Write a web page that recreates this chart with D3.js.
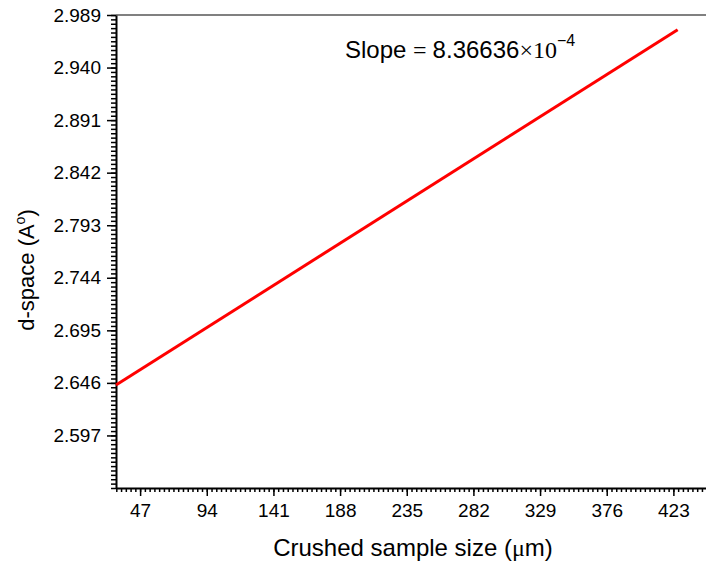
<!DOCTYPE html>
<html><head><meta charset="utf-8">
<script src="https://cdn.jsdelivr.net/npm/d3@7/dist/d3.min.js"></script>
<style>body{margin:0;background:#fff}svg{display:block}</style>
</head><body>
<svg id="c" width="706" height="570"></svg>
<script>
const xTicks = [47, 94, 141, 188, 235, 282, 329, 376, 423];
const yTicks = [2.597, 2.646, 2.695, 2.744, 2.793, 2.842, 2.891, 2.940, 2.989];
const xDomain = [30, 446];
const yDomain = [2.548, 2.989];
const lineX = [30, 426];
const lineY = [2.644, 2.97531];
const slopeLabel = "8.36636";

const svg = d3.select("#c");
const L = 116, R = 706, T = 15, B = 488;
const x = d3.scaleLinear().domain(xDomain).range([L, R]);
const y = d3.scaleLinear().domain(yDomain).range([B, T]);
const font = "'Liberation Sans', Arial, sans-serif";
const serif = "'Liberation Serif', 'Times New Roman', serif";

const xStep = 47 / 14, yStep = 0.049 / 12;
const xMinor = d3.range(xTicks[0] - 47, xDomain[1] + 1e-9, xStep).filter(v => v >= xDomain[0]);
const yMinor = d3.range(yDomain[0], yDomain[1] + 1e-9, yStep);

svg.append("line").attr("x1", L).attr("x2", R).attr("y1", T).attr("y2", T)
  .attr("stroke", "#808080").attr("stroke-width", 2);

const gx = svg.append("g").attr("transform", `translate(0,${B})`);
gx.call(d3.axisBottom(x).tickValues(xMinor).tickSize(4).tickFormat(""));
gx.call(g => g.select(".domain").remove());
const gxM = svg.append("g").attr("transform", `translate(0,${B})`)
  .call(d3.axisBottom(x).tickValues(xTicks).tickSize(8).tickSizeOuter(0).tickPadding(8).tickFormat(d3.format("d")));
const gy = svg.append("g").attr("transform", `translate(${L},0)`);
gy.call(d3.axisLeft(y).tickValues(yMinor).tickSize(5).tickFormat(""));
gy.call(g => g.select(".domain").remove());
const gyM = svg.append("g").attr("transform", `translate(${L},0)`)
  .call(d3.axisLeft(y).tickValues(yTicks).tickSize(9).tickSizeOuter(0).tickPadding(6).tickFormat(d3.format(".3f")));
svg.selectAll(".tick line").attr("stroke", "#000").attr("stroke-width", 1.5);
svg.selectAll(".domain").attr("stroke", "#000").attr("stroke-width", 2);
gyM.selectAll(".tick text").attr("font-family", font).attr("font-size", 19).attr("fill", "#000");
gxM.selectAll(".tick text").attr("font-family", font).attr("font-size", 19).attr("fill", "#000");

svg.append("line")
  .attr("x1", x(lineX[0])).attr("y1", y(lineY[0]))
  .attr("x2", x(lineX[1])).attr("y2", y(lineY[1]))
  .attr("stroke", "#ff0000").attr("stroke-width", 3);

const st = svg.append("text").attr("x", 345).attr("y", 58)
  .attr("font-family", font).attr("font-size", 24).attr("fill", "#000");
st.append("tspan").text("Slope ");
st.append("tspan").attr("font-family", serif).text("= ");
st.append("tspan").text(slopeLabel);
st.append("tspan").attr("font-family", serif).text("×10");
st.append("tspan").attr("dy", -12).attr("font-size", 16).text("−4");

const xt = svg.append("text").attr("x", 413).attr("y", 556).attr("text-anchor", "middle")
  .attr("font-family", font).attr("font-size", 24).attr("fill", "#000");
xt.append("tspan").text("Crushed sample size (");
xt.append("tspan").attr("font-family", serif).text("μ");
xt.append("tspan").text("m)");

const yt = svg.append("text").attr("transform", "translate(34,270) rotate(-90)").attr("text-anchor", "middle")
  .attr("font-family", font).attr("font-size", 22).attr("fill", "#000");
yt.append("tspan").text("d-space (A");
yt.append("tspan").attr("dy", -9).attr("font-size", 14).text("o");
yt.append("tspan").attr("dy", 9).text(")");
</script>
</body></html>
